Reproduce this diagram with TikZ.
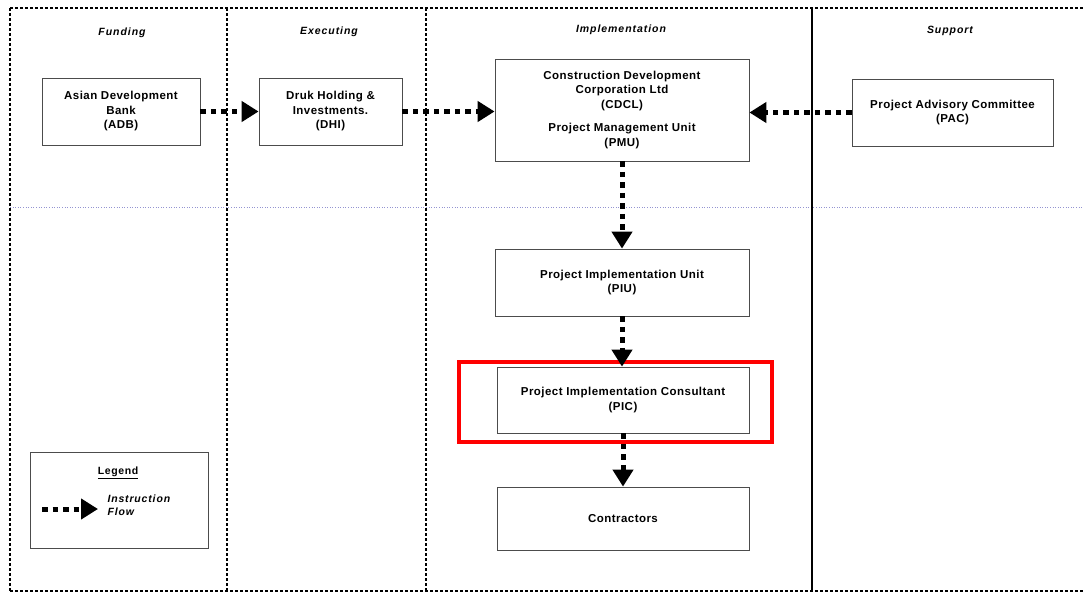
\documentclass[tikz,border=0pt]{standalone}
\usepackage{fontspec}
\setmainfont{Liberation Sans}
\usetikzlibrary{arrows.meta}
\begin{document}
\begin{tikzpicture}[x=1pt,y=-1pt,
  frameline/.style={line width=2.6pt,dash pattern=on 3pt off 2pt},
  orgbox/.style={draw=black!70,line width=0.8pt,fill=white,align=center,inner sep=2pt,
     font=\fontsize{11.5}{14.5}\selectfont\bfseries\addfontfeature{LetterSpace=4}},
  coltitle/.style={font=\fontsize{10.5}{11}\selectfont\bfseries\itshape\addfontfeature{LetterSpace=9}},
  flow/.style={line width=5pt,dash pattern=on 5.5pt off 5pt,
     -{Triangle[length=17pt,width=20pt]}}
]
\useasboundingbox (0,0) rectangle (1083,595);
\fill[white] (0,0) rectangle (1083,595);
% horizontal thin blue line
\draw[blue!40!gray!60,line width=0.6pt,dotted] (10,207) -- (1083,207);
% frame
\draw[frameline] (10,8) -- (1083,8);
\draw[frameline] (10,8) -- (10,591);
\draw[frameline] (10,591) -- (1083,591);
\draw[frameline] (227,8) -- (227,591);
\draw[frameline] (426,8) -- (426,591);
\draw[line width=2.8pt] (812,8) -- (812,591);
% titles
\node[coltitle] (tfund) at (122,33) {Funding};
\node[coltitle] (texec) at (329,32) {Executing};
\node[coltitle] (timpl) at (621,30) {Implementation};
\node[coltitle] (tsupp) at (950,31) {Support};
% boxes
\node[orgbox,minimum width=158pt,minimum height=67pt] (adb) at (121,111.5)
  {Asian Development\\Bank\\(ADB)};
\node[orgbox,minimum width=143pt,minimum height=67pt] (dhi) at (330.5,111.5)
  {Druk Holding \&\\Investments.\\(DHI)};
\node[orgbox,minimum width=254pt,minimum height=102pt] (cdcl) at (622,110)
  {Construction Development\\Corporation Ltd\\(CDCL)\\[9pt]Project Management Unit\\(PMU)};
\node[orgbox,minimum width=201pt,minimum height=67pt] (pac) at (952.5,112.5)
  {Project Advisory Committee\\(PAC)};
\node[orgbox,minimum width=254pt,minimum height=67pt] (piu) at (622,282.5)
  {Project Implementation Unit\\(PIU)};
\node[orgbox,minimum width=252pt,minimum height=66pt] (pic) at (623,400)
  {Project Implementation Consultant\\(PIC)};
\node[orgbox,minimum width=252pt,minimum height=63pt] (con) at (623,518.5)
  {Contractors};
% red highlight
\node[draw=red,line width=4pt,minimum width=313pt,minimum height=80pt,inner sep=0pt] (hl) at (615.5,402) {};
% legend
\node[draw=black!70,line width=0.8pt,fill=white,minimum width=178pt,minimum height=96pt] (leg) at (119,500) {};
\node[font=\fontsize{10.5}{11}\selectfont\bfseries\addfontfeature{LetterSpace=6}] (legt) at (118,473) {\underline{Legend}};
\coordinate (la) at (42,509);
\coordinate (lb) at (98,509);
\node[font=\fontsize{10.5}{13.5}\selectfont\bfseries\itshape\addfontfeature{LetterSpace=8},align=left,anchor=west] (legf) at (104,505) {Instruction\\Flow};
\draw[flow] (la) -- (lb);
% arrows
\draw[flow] (adb.east) -- (adb.east -| dhi.west);
\draw[flow] (dhi.east) -- (dhi.east -| cdcl.west);
\draw[flow] (pac.west) -- (pac.west -| cdcl.east);
\draw[flow] (cdcl.south) -- (piu.north);
\draw[flow] (piu.south) -- (piu.south |- pic.north);
\draw[flow] (pic.south) -- (con.north);
\end{tikzpicture}
\end{document}
